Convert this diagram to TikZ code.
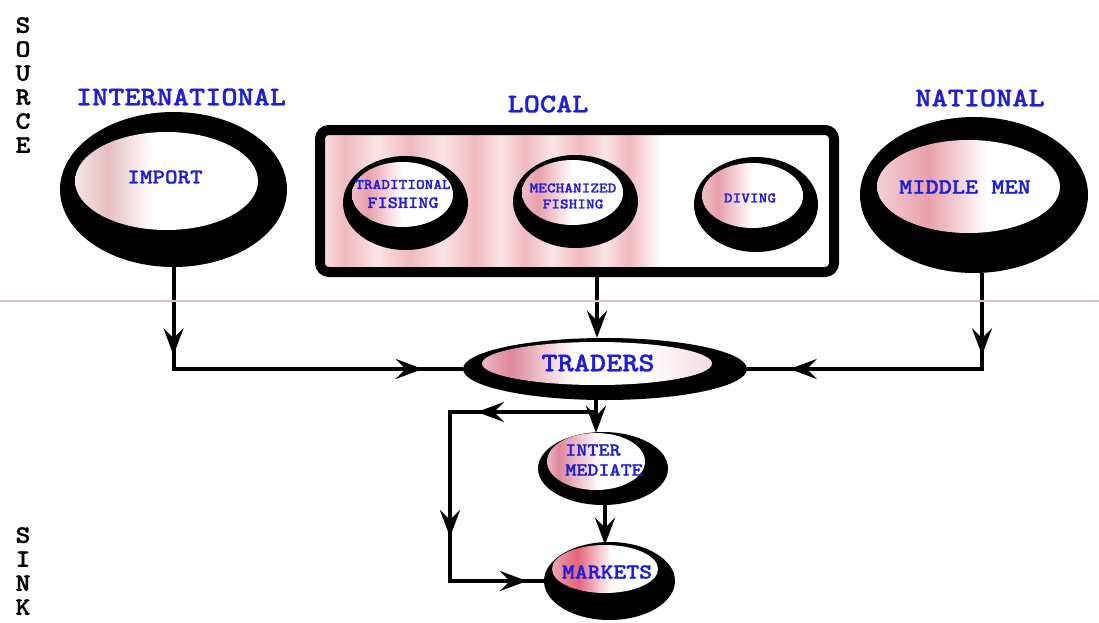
\documentclass[tikz,border=0pt]{standalone}
\usepackage{fontspec}
\usetikzlibrary{shapes.geometric, arrows.meta, decorations.markings}
\newfontfamily\courfont{lmmonolt10-regular.otf}[BoldFont=lmmonolt10-bold.otf, BoldFeatures={FakeBold=1.2}, FakeStretch=1.14]
\definecolor{labelblue}{RGB}{30,30,220}
\definecolor{band}{RGB}{240,185,192}
\definecolor{bandlite}{RGB}{250,228,230}
\definecolor{blushF}{RGB}{230,190,192}
\definecolor{blushM}{RGB}{232,160,172}
\definecolor{blushT}{RGB}{222,135,155}
\definecolor{blushR}{RGB}{228,100,120}
\definecolor{dividerpink}{RGB}{215,195,195}
\pgfdeclarehorizontalshading{stripes}{100bp}{color(0bp)=(bandlite); color(25bp)=(bandlite);
  color(27.4bp)=(band); color(30.6bp)=(bandlite); color(33.75bp)=(band); color(36.9bp)=(bandlite);
  color(40.1bp)=(band); color(42.5bp)=(bandlite); color(44.9bp)=(band); color(47.6bp)=(bandlite);
  color(50.3bp)=(band); color(52.7bp)=(bandlite); color(55bp)=(band); color(58.1bp)=(white); color(100bp)=(white)}
\pgfdeclarehorizontalshading{faintblush}{100bp}{color(0bp)=(white!60!blushF); color(25bp)=(white!60!blushF);
  color(34bp)=(blushF); color(46bp)=(white); color(100bp)=(white)}
\pgfdeclarehorizontalshading{middleblush}{100bp}{color(0bp)=(white!50!blushM); color(25bp)=(white!50!blushM);
  color(39bp)=(blushM); color(55bp)=(white); color(100bp)=(white)}
\pgfdeclarehorizontalshading{smallblush}{100bp}{color(0bp)=(white!30!blushM); color(25bp)=(white!30!blushM);
  color(33bp)=(blushM); color(50bp)=(white); color(100bp)=(white)}
\pgfdeclarehorizontalshading{tradeblush}{100bp}{color(0bp)=(white!40!blushT); color(25bp)=(white!40!blushT);
  color(31bp)=(blushT); color(45bp)=(white); color(60bp)=(white); color(75bp)=(white!70!blushT); color(100bp)=(white!70!blushT)}
\pgfdeclarehorizontalshading{interblush}{100bp}{color(0bp)=(white!40!blushT); color(25bp)=(white!40!blushT);
  color(31bp)=(blushT); color(52bp)=(white); color(100bp)=(white)}
\pgfdeclarehorizontalshading{marketblush}{100bp}{color(0bp)=(white!40!blushR); color(25bp)=(white!40!blushR);
  color(37bp)=(blushR); color(53bp)=(white); color(100bp)=(white)}
\tikzset{
  outerdisc/.style={ellipse, fill=black, inner sep=0pt},
  innerdisc/.style={ellipse, inner sep=0pt, shade, shading=#1},
  title/.style={text=labelblue, font=\courfont\bfseries\fontsize{27}{27}\selectfont, inner sep=0pt},
  tag/.style={text=labelblue, font=\courfont\bfseries\fontsize{#1}{#1}\selectfont, inner sep=0pt, align=center},
  side/.style={font=\courfont\bfseries\fontsize{25}{24}\selectfont, inner sep=0pt, align=center, anchor=north},
  conn/.style={line width=4pt},
  headed/.style={-{Stealth[length=27pt,width=20pt,inset=10pt]}},
  tipat/.style={postaction={decorate, decoration={markings,
    mark=at position #1 with {\arrow{Stealth[length=27pt,width=20pt,inset=10pt]}}}}},
  divider/.style={draw=dividerpink, line width=2.5pt}
}
\begin{document}
\begin{tikzpicture}[x=1pt, y=-1pt]
  \useasboundingbox (0,0) rectangle (1099,623);

  \node[side] (sourcetxt) at (23,17) {S\\O\\U\\R\\C\\E};
  \node[side] (sinktxt) at (23,527) {S\\I\\N\\K};

  \node[title] (intltxt) at (181,97) {INTERNATIONAL};
  \node[title] (localtxt) at (548,104) {LOCAL};
  \node[title] (natltxt) at (980,98) {NATIONAL};

  \node[outerdisc, minimum width=227pt, minimum height=155pt] (import) at (173.5,189.5) {};
  \node[innerdisc=faintblush, minimum width=183pt, minimum height=98pt] (importin) at (166.5,181) {};
  \node[tag=21] (importtxt) at (165,177) {IMPORT};

  \node[outerdisc, minimum width=228pt, minimum height=156pt] (national) at (974,195) {};
  \node[innerdisc=middleblush, minimum width=183pt, minimum height=93pt] (nationalin) at (968.5,186.5) {};
  \node[tag=22] (middletxt) at (965,187) {MIDDLE MEN};

  \node[draw, line width=10pt, rounded corners=9pt, shade, shading=stripes,
    minimum width=514pt, minimum height=142pt, inner sep=0pt] (localbox) at (577,201) {};

  \node[outerdisc, minimum width=125pt, minimum height=94pt] (trad) at (405.5,203) {};
  \node[innerdisc=smallblush, minimum width=101pt, minimum height=65pt] (tradin) at (402.5,194.5) {};
  \node[tag=14.5, font=\courfont\bfseries\fontsize{14.5}{19}\selectfont] (tradtxt) at (403,194)
    {TRADITIONAL\\{\fontsize{17}{19}\selectfont FISHING}};

  \node[outerdisc, minimum width=125pt, minimum height=93pt] (mech) at (575.5,201.5) {};
  \node[innerdisc=smallblush, minimum width=101pt, minimum height=65pt] (mechin) at (572.5,192.5) {};
  \node[tag=14.5, font=\courfont\bfseries\fontsize{14.5}{16}\selectfont] (mechtxt) at (573,196)
    {MECHANIZED\\FISHING};

  \node[outerdisc, minimum width=124pt, minimum height=95pt] (diving) at (756,204.5) {};
  \node[innerdisc=smallblush, minimum width=101pt, minimum height=65pt] (divingin) at (752.5,195.5) {};
  \node[tag=14.5] (divingtxt) at (750,198) {DIVING};

  \node[outerdisc, minimum width=284pt, minimum height=62pt] (traders) at (605,369) {};
  \node[innerdisc=tradeblush, minimum width=230pt, minimum height=43pt] (tradersin) at (597,363.5) {};
  \node[tag=27] (traderstxt) at (598,363) {TRADERS};

  \node[outerdisc, minimum width=130pt, minimum height=73pt] (inter) at (603,468.5) {};
  \node[innerdisc=interblush, minimum width=98pt, minimum height=57pt] (interin) at (596,461.5) {};
  \node[tag=18.5, align=left, font=\courfont\bfseries\fontsize{18.5}{20}\selectfont] (intertxt) at (604,460)
    {INTER\\MEDIATE};

  \node[outerdisc, minimum width=131pt, minimum height=78pt] (markets) at (609.5,581) {};
  \node[innerdisc=marketblush, minimum width=106pt, minimum height=48pt] (marketsin) at (605,569) {};
  \node[tag=21.5] (marketstxt) at (607,572) {MARKETS};

  \coordinate (split) at (597,412);
  \coordinate (bend) at (450,412);

  \draw[conn, tipat=88pt, tipat=351pt] (import.south) |- (traders.west);
  \draw[conn, tipat=82pt, tipat=288pt] ([xshift=8pt]national.south) |- (traders.east);
  \draw[conn, headed] (localbox.south -| tradersin) -- (traders.north -| tradersin);
  \draw[conn, headed] (traders.south -| interin) -- (interin.north);
  \draw[conn, tipat=120pt, tipat=272pt, tipat=393pt] (split) -- (bend) |- (markets.west);
  \draw[conn, headed] (inter.south -| marketsin) -- (marketsin.north);

  \draw[divider] (0,301) -- (1099,301);
\end{tikzpicture}
\end{document}
